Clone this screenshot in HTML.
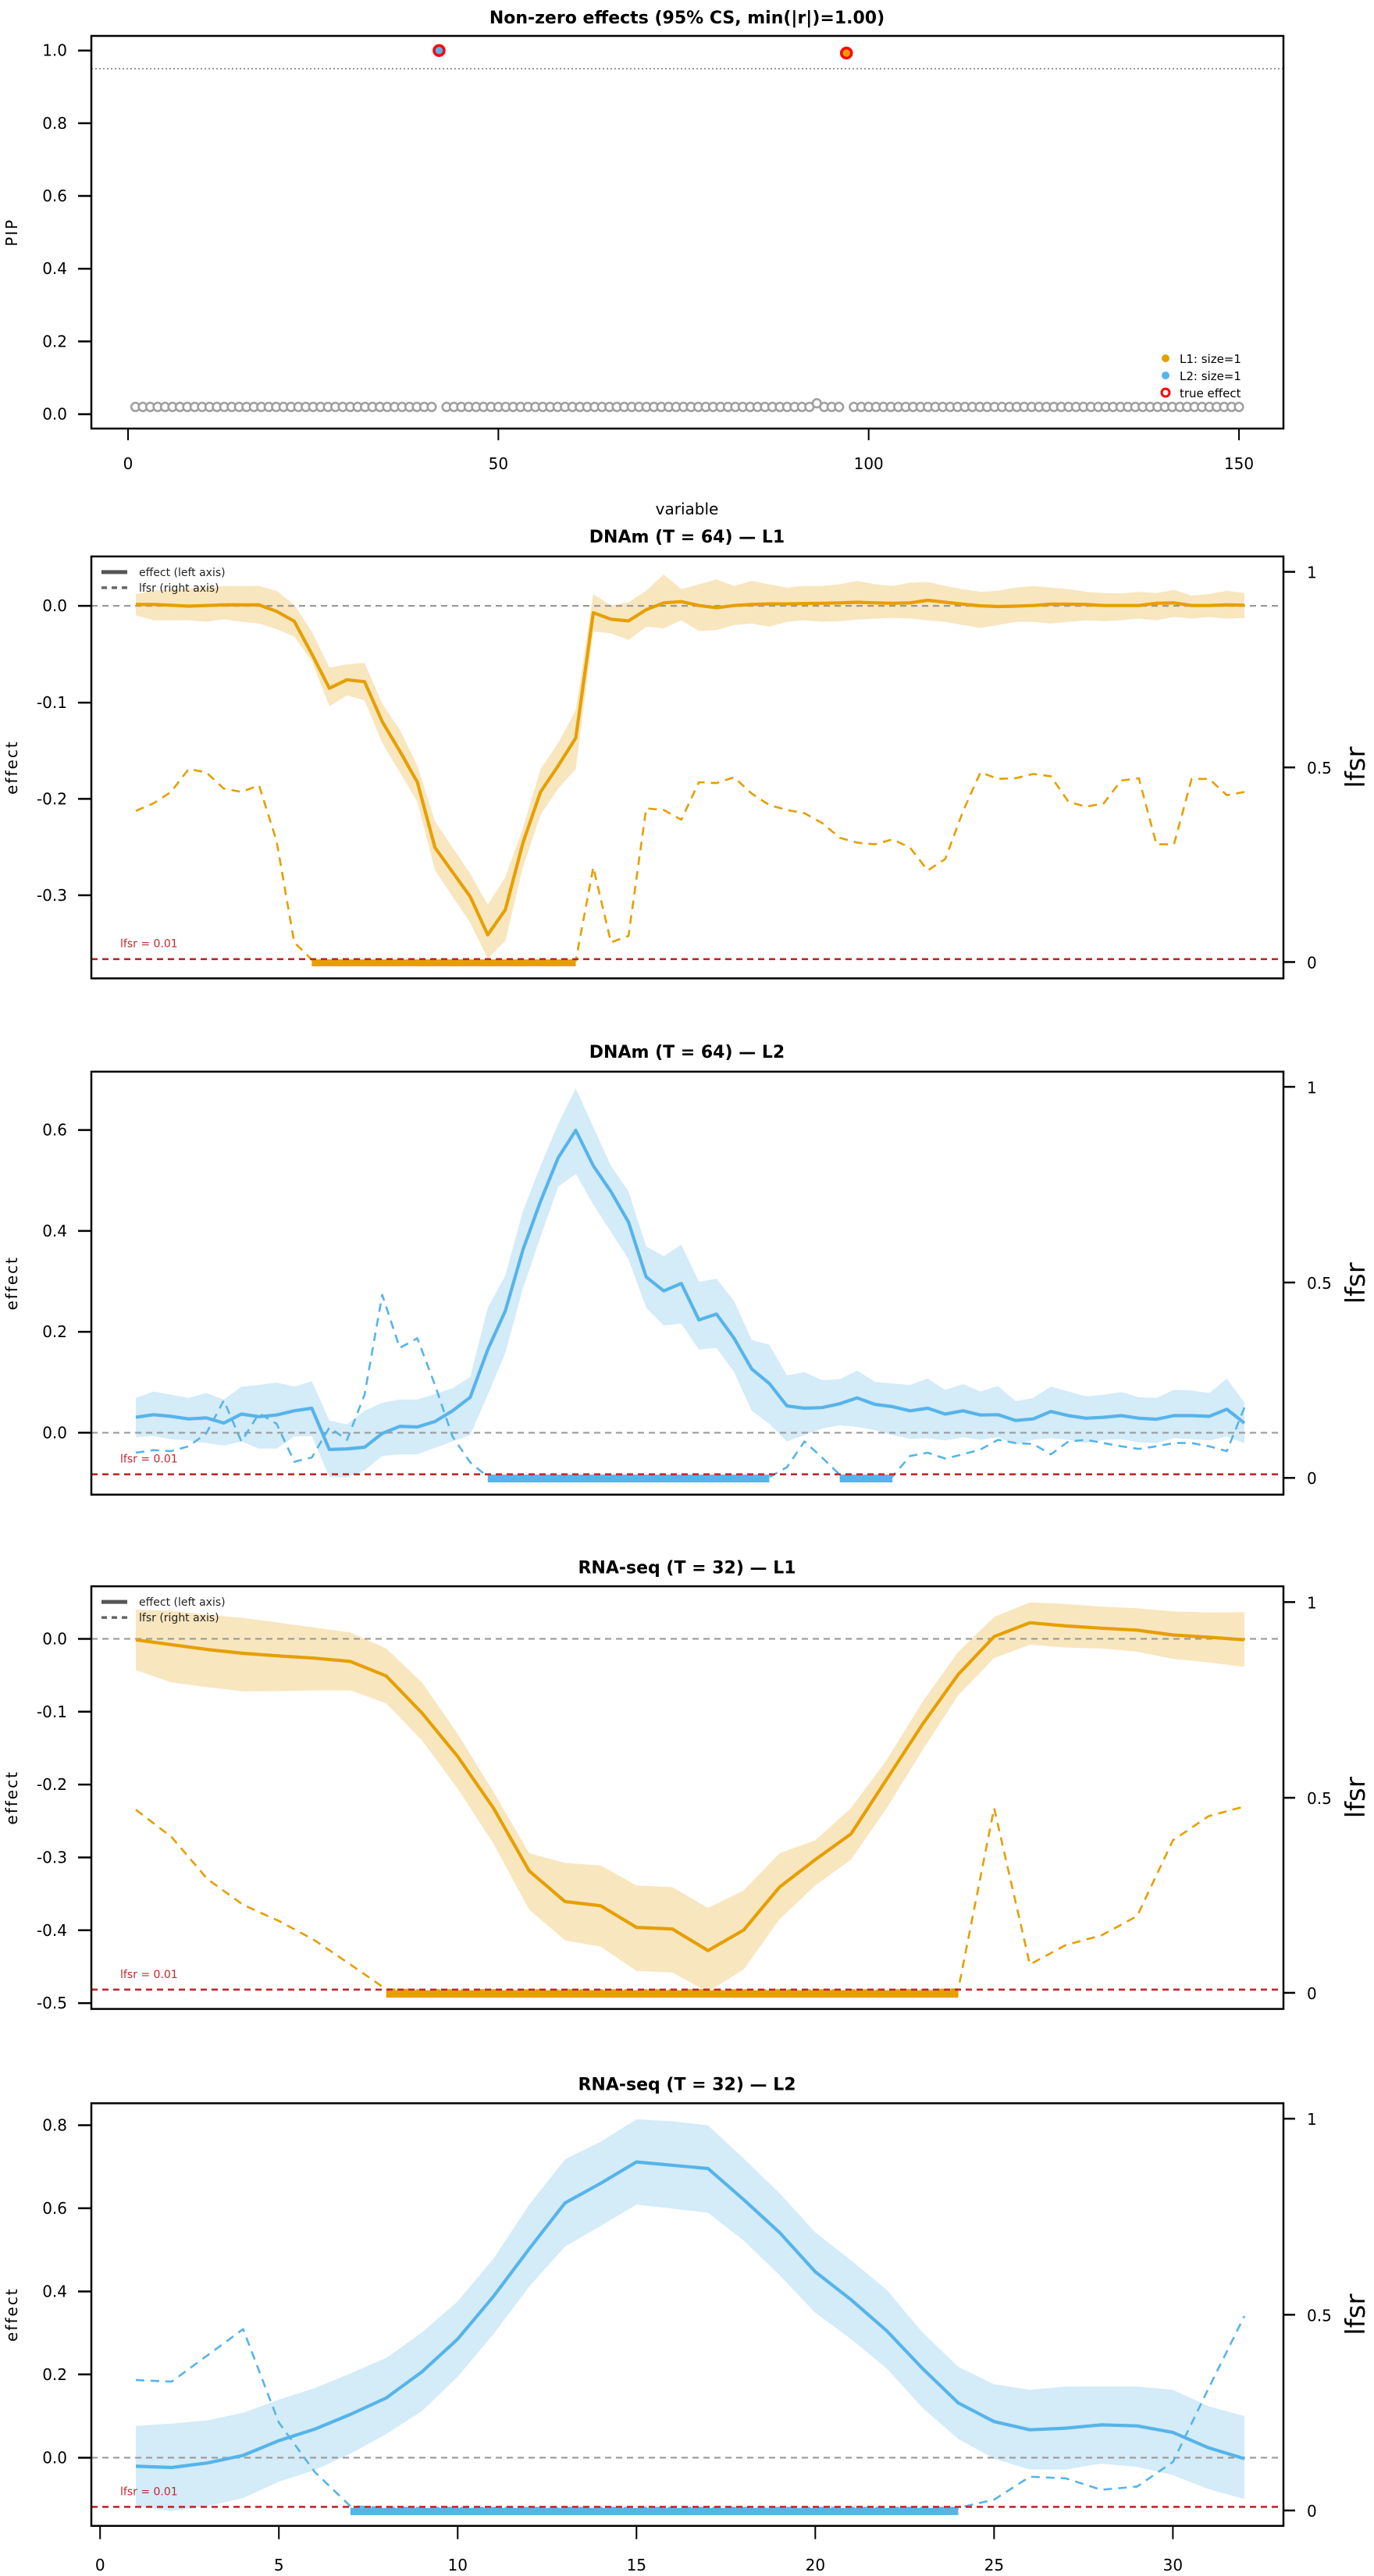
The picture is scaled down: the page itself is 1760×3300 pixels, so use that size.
<!DOCTYPE html>
<html><head><meta charset="utf-8">
<style>
html,body{margin:0;padding:0;background:#fff;}
svg{display:block;font-family:"DejaVu Sans","Liberation Sans",sans-serif;}
</style></head>
<body>
<svg id="s" width="1760" height="3300" viewBox="0 0 1760 3300" xmlns="http://www.w3.org/2000/svg"></svg>
<script>
const S=document.getElementById('s');let out='';
const L=117,R=1644,XC=880;
const OR='#E69F00',BL='#56B4E9',ORB='#F8E6BF',BLB='#D4EBF8';
function t(x,y,s,o){o=o||{};out+=`<text x="${x}" y="${y}" font-size="${o.fs||20}" ${o.a?`text-anchor="${o.a}"`:''} ${o.fw?`font-weight="${o.fw}"`:''} fill="${o.c||'#000'}" ${o.tr?`transform="${o.tr}"`:''} ${o.ls?`letter-spacing="${o.ls}"`:''}>${s}</text>`;}
function ln(x1,y1,x2,y2,c,w,d){out+=`<line x1="${x1}" y1="${y1}" x2="${x2}" y2="${y2}" stroke="${c}" stroke-width="${w}" ${d?`stroke-dasharray="${d}"`:''}/>`;}
function pl(pts,c,w,d){out+=`<polyline points="${pts.map(p=>p[0].toFixed(1)+','+p[1].toFixed(1)).join(' ')}" fill="none" stroke="${c}" stroke-width="${w}" stroke-linejoin="round" ${d?`stroke-dasharray="${d}"`:''}/>`;}
function pg(pts,c){out+=`<polygon points="${pts.map(p=>p[0].toFixed(1)+','+p[1].toFixed(1)).join(' ')}" fill="${c}" stroke="none"/>`;}

/* ---------- Panel 1 ---------- */
(function(){
const T=46,B=549;const y=v=>530.6-v*465.9;const x=v=>164+v*9.487;
t(XC,30,'Non-zero effects (95% CS, min(|r|)=1.00)',{a:'middle',fw:'bold',fs:22});
ln(L,y(0.95),R,y(0.95),'#999',2,'2,3');
for(let v=1;v<=150;v++){if(v==42||v==97)continue;const p=v==93?0.03:0.02;
out+=`<circle cx="${x(v)}" cy="${y(p)}" r="5.3" fill="#fff" stroke="#a0a0a0" stroke-width="2.6"/>`;}
out+=`<circle cx="${x(42)}" cy="${y(1.0)}" r="6.5" fill="${BL}" stroke="#f00" stroke-width="3.5"/>`;
out+=`<circle cx="${x(97)}" cy="${y(0.993)}" r="6.5" fill="${OR}" stroke="#f00" stroke-width="3.5"/>`;
out+=`<rect x="${L}" y="${T}" width="${R-L}" height="${B-T}" fill="none" stroke="#000" stroke-width="2.5"/>`;
[0,0.2,0.4,0.6,0.8,1.0].forEach(v=>{ln(100,y(v),L,y(v),'#000',2.5);t(86,y(v)+7,v.toFixed(1),{a:'end',fs:20});});
[0,50,100,150].forEach(v=>{ln(x(v),B,x(v),564,'#000',2);t(x(v),601,v,{a:'middle',fs:20});});
t(XC,659,'variable',{a:'middle',fs:20});
t(22,y(0.5),'PIP',{a:'middle',fs:20,tr:`rotate(-90 22 ${y(0.5)})`,ls:2});
out+=`<circle cx="1493" cy="459" r="5" fill="${OR}"/><circle cx="1493" cy="481" r="5" fill="${BL}"/><circle cx="1493" cy="503" r="5" fill="#fff" stroke="#f00" stroke-width="3"/>`;
t(1511,465,'L1: size=1',{fs:15});t(1511,487,'L2: size=1',{fs:15});t(1511,509,'true effect',{fs:15});
})();

/* ---------- effect panels ---------- */
function panel(o){
 const Y=zy=>o.y0+zy*o.f;const n=o.eff.length;const X=i=>174+i*1420/(n-1);
 const T=Y(o.top),B=Y(o.bot);
 t(XC,Y(o.title)+8,o.name,{a:'middle',fw:'bold',fs:22});
 const up=o.up.map((v,i)=>[X(i),Y(v)]),lo=o.lo.map((v,i)=>[X(i),Y(v)]).reverse();
 pg(up.concat(lo),o.band);
 ln(L,Y(o.zero),R,Y(o.zero),'#9a9a9a',2.2,'8,6');
 pl(o.eff.map((v,i)=>[X(i),Y(v)]),o.col,4.2);
 pl(o.lf.map((v,i)=>[X(i),Y(v)]),o.col,2.6,'11,8');
 o.cs.forEach(c=>{out+=`<rect x="${X(c[0]-1)}" y="${Y(c[2])}" width="${X(c[1]-1)-X(c[0]-1)}" height="${Y(c[3])-Y(c[2])}" fill="${o.col}"/>`;});
 ln(L,Y(o.lfl),R,Y(o.lfl),'#C0282D',2.6,'8,6');
 t(154,Y(o.lfl)-15,'lfsr = 0.01',{fs:14,c:'#C0282D'});
 out+=`<rect x="${L}" y="${T}" width="${R-L}" height="${B-T}" fill="none" stroke="#000" stroke-width="2.5"/>`;
 o.ticks.forEach(k=>{ln(100,Y(k[0]),L,Y(k[0]),'#000',2.5);t(86,Y(k[0])+7,k[1],{a:'end',fs:20});});
 o.rt.forEach(k=>{ln(R,Y(k[0]),1659,Y(k[0]),'#000',2.5);t(1674,Y(k[0])+8,k[1],{fs:20});});
 const mid=(T+B)/2;
 t(22,mid,'effect',{a:'middle',fs:20,tr:`rotate(-90 22 ${mid})`,ls:2});
 t(1748,mid,'lfsr',{a:'middle',fs:34,tr:`rotate(-90 1748 ${mid})`});
 if(o.leg){const a=T+20,b=T+40;ln(130,a,163,a,'#555',5);ln(130,b,163,b,'#666',3.5,'7,6');
  t(178,a+5,'effect (left axis)',{fs:14,c:'#222'});t(178,b+5,'lfsr (right axis)',{fs:14,c:'#222'});}
 return {X,Y,B};
}

panel({name:'DNAm (T = 64) — L1',y0:650,f:0.419,top:150,bot:1440,title:88,zero:301,lfl:1381,col:OR,band:ORB,leg:true,
eff:[297,297,299,302,300,298,298,298,318,348,448,553,527,533,655,745,840,1040,1115,1190,1307,1230,1025,870,790,705,322,342,347,313,292,288,300,307,300,297,295,295,294,293,292,290,292,293,292,284,290,296,301,303,302,300,296,296,297,300,300,300,293,292,300,300,298,299],
up:[265,255,250,248,245,240,240,240,255,298,380,490,480,475,600,680,790,960,1040,1120,1215,1130,980,800,720,620,265,300,290,255,205,250,235,220,240,225,235,245,240,240,235,225,235,240,230,228,240,250,258,255,245,240,245,250,258,262,263,258,262,252,270,265,255,262],
lo:[330,345,345,345,350,342,350,355,372,395,470,608,575,590,720,810,900,1110,1190,1270,1380,1325,1100,940,860,800,380,385,405,365,370,345,378,375,360,355,365,350,345,350,348,343,340,338,340,345,350,360,368,360,350,350,355,350,345,348,345,340,345,335,340,335,340,338],
lf:[928,905,870,800,810,860,870,850,1020,1330,1383,1386,1386,1386,1386,1386,1386,1386,1386,1386,1386,1386,1386,1386,1386,1386,1100,1330,1310,920,925,955,840,843,825,875,910,925,935,965,1010,1025,1030,1015,1040,1110,1075,930,810,830,828,815,822,900,915,905,835,828,1030,1030,830,830,880,870],
cs:[[11,26,1382,1403]],
ticks:[[301,'0.0'],[597,'-0.1'],[891,'-0.2'],[1186,'-0.3']],rt:[[197,'1'],[795,'0.5'],[1390,'0']]});

panel({name:'DNAm (T = 64) — L2',y0:1320,f:0.413,top:128,bot:1440,title:65,zero:1248,lfl:1377,col:BL,band:BLB,
eff:[1200,1192,1197,1205,1202,1218,1190,1198,1193,1180,1172,1300,1298,1293,1250,1228,1230,1213,1180,1138,990,870,680,530,395,310,420,500,595,765,808,785,898,880,955,1050,1095,1165,1172,1170,1158,1140,1160,1167,1180,1172,1190,1180,1193,1192,1210,1205,1182,1195,1203,1200,1195,1203,1206,1195,1195,1197,1175,1218],
up:[1140,1120,1130,1140,1125,1145,1105,1100,1092,1105,1088,1210,1222,1180,1155,1145,1145,1128,1110,1075,860,760,560,420,290,180,300,420,500,670,700,665,780,770,840,960,975,1070,1060,1085,1082,1055,1090,1095,1100,1080,1115,1097,1120,1103,1150,1140,1105,1120,1135,1130,1122,1138,1140,1115,1117,1125,1080,1155],
lo:[1262,1258,1268,1272,1280,1288,1275,1297,1297,1260,1258,1385,1387,1365,1320,1315,1315,1295,1275,1255,1130,1000,800,640,485,445,540,625,710,860,915,910,990,985,1060,1180,1220,1275,1255,1235,1225,1230,1240,1255,1267,1265,1272,1262,1270,1262,1285,1270,1265,1270,1280,1270,1268,1278,1280,1265,1268,1272,1260,1280],
lf:[1310,1302,1305,1290,1250,1148,1275,1188,1220,1338,1325,1232,1270,1130,820,985,955,1100,1260,1340,1385,1386,1386,1386,1386,1386,1386,1386,1386,1386,1386,1386,1386,1386,1386,1386,1386,1355,1275,1325,1378,1384,1384,1384,1320,1310,1328,1315,1300,1270,1280,1283,1315,1275,1270,1280,1290,1298,1290,1280,1280,1290,1305,1170],
cs:[[21,37,1378,1402],[41,44,1378,1402]],
ticks:[[1248,'0.0'],[935,'0.2'],[622,'0.4'],[309,'0.6']],rt:[[175,'1'],[782,'0.5'],[1388,'0']]});

panel({name:'RNA-seq (T = 32) — L1',y0:1990,f:0.413,top:102,bot:1413,title:42,zero:265,lfl:1353,col:OR,band:ORB,leg:true,
eff:[268,283,298,310,318,325,335,380,495,630,790,985,1080,1093,1160,1165,1232,1168,1035,950,870,700,530,375,258,215,225,232,238,253,260,268],
up:[175,178,190,200,215,230,245,295,400,560,740,930,960,968,1030,1035,1100,1045,930,890,790,640,460,305,197,152,157,165,170,180,183,182],
lo:[362,400,415,428,427,425,425,465,580,730,900,1105,1200,1220,1295,1300,1360,1290,1135,1030,950,790,610,440,325,283,292,295,305,327,338,352],
lf:[795,880,1010,1090,1140,1200,1275,1352,1355,1355,1355,1355,1355,1355,1355,1355,1355,1355,1355,1355,1355,1355,1355,1352,790,1275,1215,1185,1125,890,815,785],
cs:[[8,24,1355,1378]],
ticks:[[265,'0.0'],[491,'-0.1'],[717,'-0.2'],[943,'-0.3'],[1169,'-0.4'],[1395,'-0.5']],rt:[[151,'1'],[758,'0.5'],[1363,'0']]});

const p5=panel({name:'RNA-seq (T = 32) — L2',y0:2652,f:0.42,top:101,bot:1390,title:42,zero:1182,lfl:1332,col:BL,band:BLB,
eff:[1208,1212,1198,1175,1130,1095,1050,1000,920,820,690,545,405,345,280,290,300,395,495,615,700,795,910,1015,1072,1097,1092,1082,1085,1105,1152,1185],
up:[1085,1078,1068,1045,1005,970,925,878,800,705,575,410,272,218,150,156,168,270,375,495,580,670,800,905,958,975,965,965,965,975,1025,1055],
lo:[1330,1345,1330,1305,1255,1220,1170,1110,1040,935,805,660,538,475,410,422,435,520,625,740,820,910,1030,1125,1185,1218,1218,1200,1210,1235,1278,1308],
lf:[945,950,870,790,1075,1225,1330,1335,1335,1335,1335,1335,1335,1335,1335,1335,1335,1335,1335,1335,1335,1335,1335,1335,1310,1240,1245,1280,1270,1195,970,750],
cs:[[7,24,1335,1357]],
ticks:[[1182,'0.0'],[928,'0.2'],[675,'0.4'],[421,'0.6'],[168,'0.8']],rt:[[148,'1'],[746,'0.5'],[1343,'0']]});
for(let v=0;v<=30;v+=5){const x=174+(v-1)*1420/31;ln(x,p5.B,x,p5.B+17,'#000',2);t(x,3293,v,{a:'middle',fs:20});}

S.innerHTML=out;
</script>
</body></html>
